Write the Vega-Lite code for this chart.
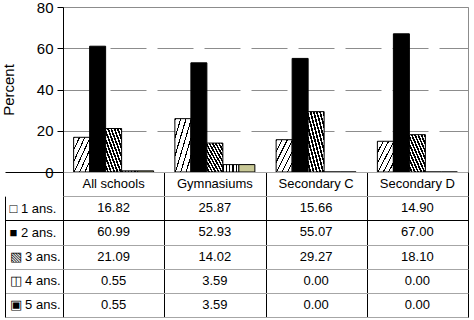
{
  "$schema": "https://vega.github.io/schema/vega-lite/v6.json",
  "padding": {"left": 0, "top": -1, "right": 0, "bottom": 0},
  "config": {"font": "Liberation Sans", "view": {"stroke": null}},
  "datasets": {
    "d": [
      {"school": "All schools", "ans": "1 ans.", "pct": 16.82},
      {"school": "All schools", "ans": "2 ans.", "pct": 60.99},
      {"school": "All schools", "ans": "3 ans.", "pct": 21.09},
      {"school": "All schools", "ans": "4 ans.", "pct": 0.55},
      {"school": "All schools", "ans": "5 ans.", "pct": 0.55},
      {"school": "Gymnasiums", "ans": "1 ans.", "pct": 25.87},
      {"school": "Gymnasiums", "ans": "2 ans.", "pct": 52.93},
      {"school": "Gymnasiums", "ans": "3 ans.", "pct": 14.02},
      {"school": "Gymnasiums", "ans": "4 ans.", "pct": 3.59},
      {"school": "Gymnasiums", "ans": "5 ans.", "pct": 3.59},
      {"school": "Secondary C", "ans": "1 ans.", "pct": 15.66},
      {"school": "Secondary C", "ans": "2 ans.", "pct": 55.07},
      {"school": "Secondary C", "ans": "3 ans.", "pct": 29.27},
      {"school": "Secondary C", "ans": "4 ans.", "pct": 0.0},
      {"school": "Secondary C", "ans": "5 ans.", "pct": 0.0},
      {"school": "Secondary D", "ans": "1 ans.", "pct": 14.9},
      {"school": "Secondary D", "ans": "2 ans.", "pct": 67.0},
      {"school": "Secondary D", "ans": "3 ans.", "pct": 18.1},
      {"school": "Secondary D", "ans": "4 ans.", "pct": 0.0},
      {"school": "Secondary D", "ans": "5 ans.", "pct": 0.0}
    ]
  },
  "bounds": "flush",
  "spacing": 0,
  "vconcat": [
    {
      "width": 405,
      "height": 165,
      "view": {"stroke": "#8c8c8c", "strokeWidth": 1},
      "data": {"name": "d"},
      "mark": {"type": "bar", "stroke": "black", "strokeWidth": 1},
      "encoding": {
        "x": {"field": "school", "type": "nominal", "scale": {"domain": ["All schools", "Gymnasiums", "Secondary C", "Secondary D"], "paddingInner": 0.21, "paddingOuter": 0.105}, "axis": null},
        "xOffset": {"field": "ans", "type": "nominal", "scale": {"domain": ["1 ans.", "2 ans.", "3 ans.", "4 ans.", "5 ans."], "paddingInner": 0, "paddingOuter": 0}},
        "y": {
          "field": "pct", "type": "quantitative",
          "scale": {"domain": [0, 80], "nice": false},
          "axis": {"values": [0, 20, 40, 60, 80], "title": "Percent", "titleFontSize": 15, "titleFontWeight": "normal", "titleColor": "black", "titlePadding": 20, "labelFontSize": 15, "labelColor": "black", "labelPadding": 4, "tickSize": 6, "tickColor": "black", "domainColor": "black", "grid": true, "gridColor": "#8c8c8c", "gridDash": [36, 11]}
        },
        "fill": {
          "condition": [
            {"test": "datum.ans === '1 ans.'", "value": {"gradient": "linear", "x1": 0, "y1": 0, "x2": 1, "y2": 1, "stops": [
              {"offset": 0, "color": "#000"}, {"offset": 0.035, "color": "#000"}, {"offset": 0.035, "color": "#fff"}, {"offset": 0.1667, "color": "#fff"},
              {"offset": 0.1667, "color": "#000"}, {"offset": 0.2017, "color": "#000"}, {"offset": 0.2017, "color": "#fff"}, {"offset": 0.3333, "color": "#fff"},
              {"offset": 0.3333, "color": "#000"}, {"offset": 0.3683, "color": "#000"}, {"offset": 0.3683, "color": "#fff"}, {"offset": 0.5, "color": "#fff"},
              {"offset": 0.5, "color": "#000"}, {"offset": 0.535, "color": "#000"}, {"offset": 0.535, "color": "#fff"}, {"offset": 0.6667, "color": "#fff"},
              {"offset": 0.6667, "color": "#000"}, {"offset": 0.7017, "color": "#000"}, {"offset": 0.7017, "color": "#fff"}, {"offset": 0.8333, "color": "#fff"},
              {"offset": 0.8333, "color": "#000"}, {"offset": 0.8683, "color": "#000"}, {"offset": 0.8683, "color": "#fff"}, {"offset": 1, "color": "#fff"}
            ]}},
            {"test": "datum.ans === '3 ans.'", "value": {"gradient": "linear", "x1": 1, "y1": 0, "x2": 0, "y2": 1, "stops": [
              {"offset": 0, "color": "#000"}, {"offset": 0.055, "color": "#000"}, {"offset": 0.055, "color": "#fff"}, {"offset": 0.1, "color": "#fff"},
              {"offset": 0.1, "color": "#000"}, {"offset": 0.155, "color": "#000"}, {"offset": 0.155, "color": "#fff"}, {"offset": 0.2, "color": "#fff"},
              {"offset": 0.2, "color": "#000"}, {"offset": 0.255, "color": "#000"}, {"offset": 0.255, "color": "#fff"}, {"offset": 0.3, "color": "#fff"},
              {"offset": 0.3, "color": "#000"}, {"offset": 0.355, "color": "#000"}, {"offset": 0.355, "color": "#fff"}, {"offset": 0.4, "color": "#fff"},
              {"offset": 0.4, "color": "#000"}, {"offset": 0.455, "color": "#000"}, {"offset": 0.455, "color": "#fff"}, {"offset": 0.5, "color": "#fff"},
              {"offset": 0.5, "color": "#000"}, {"offset": 0.555, "color": "#000"}, {"offset": 0.555, "color": "#fff"}, {"offset": 0.6, "color": "#fff"},
              {"offset": 0.6, "color": "#000"}, {"offset": 0.655, "color": "#000"}, {"offset": 0.655, "color": "#fff"}, {"offset": 0.7, "color": "#fff"},
              {"offset": 0.7, "color": "#000"}, {"offset": 0.755, "color": "#000"}, {"offset": 0.755, "color": "#fff"}, {"offset": 0.8, "color": "#fff"},
              {"offset": 0.8, "color": "#000"}, {"offset": 0.855, "color": "#000"}, {"offset": 0.855, "color": "#fff"}, {"offset": 0.9, "color": "#fff"},
              {"offset": 0.9, "color": "#000"}, {"offset": 0.955, "color": "#000"}, {"offset": 0.955, "color": "#fff"}, {"offset": 1, "color": "#fff"}
            ]}},
            {"test": "datum.ans === '4 ans.'", "value": {"gradient": "linear", "x1": 0, "y1": 0, "x2": 1, "y2": 0, "stops": [
              {"offset": 0, "color": "#000"}, {"offset": 0.07, "color": "#000"}, {"offset": 0.07, "color": "#fff"}, {"offset": 0.2, "color": "#fff"},
              {"offset": 0.2, "color": "#000"}, {"offset": 0.27, "color": "#000"}, {"offset": 0.27, "color": "#fff"}, {"offset": 0.4, "color": "#fff"},
              {"offset": 0.4, "color": "#000"}, {"offset": 0.47, "color": "#000"}, {"offset": 0.47, "color": "#fff"}, {"offset": 0.6, "color": "#fff"},
              {"offset": 0.6, "color": "#000"}, {"offset": 0.67, "color": "#000"}, {"offset": 0.67, "color": "#fff"}, {"offset": 0.8, "color": "#fff"},
              {"offset": 0.8, "color": "#000"}, {"offset": 0.87, "color": "#000"}, {"offset": 0.87, "color": "#fff"}, {"offset": 1, "color": "#fff"}
            ]}},
            {"test": "datum.ans === '5 ans.'", "value": "#c8c896"}
          ],
          "value": "black"
        }
      }
    },
    {
      "width": 405,
      "height": 145,
      "view": {"stroke": "black", "strokeWidth": 1},
      "data": {"name": "d"},
      "encoding": {
        "x": {
          "field": "school", "type": "nominal",
          "scale": {"domain": ["All schools", "Gymnasiums", "Secondary C", "Secondary D"], "paddingInner": 0, "paddingOuter": 0},
          "axis": {"title": null, "labels": false, "ticks": false, "domain": false, "grid": true, "tickBand": "extent", "gridColor": "black", "gridOpacity": 1}
        }
      },
      "resolve": {"axis": {"y": "independent"}},
      "layer": [
        {
          "mark": {"type": "text", "fontSize": 13, "color": "black"},
          "encoding": {
            "y": {
              "field": "ans", "type": "nominal",
              "scale": {"domain": ["hdr", "1 ans.", "2 ans.", "3 ans.", "4 ans.", "5 ans."], "paddingInner": 0, "paddingOuter": 0},
              "axis": {
                "title": null, "domain": false, "tickBand": "extent", "tickSize": 58,
                "tickColor": {"condition": [{"test": "datum.value === 'hdr'", "value": "transparent"}, {"test": "datum.value === '1 ans.' || !datum.value", "value": "black"}], "value": "#a6a6a6"},
                "labelAlign": "left", "labelPadding": -4, "labelFontSize": 13, "labelColor": "black",
                "labelExpr": "(!datum.value || datum.value === 'hdr') ? '' : (datum.value === '1 ans.' ? '□ ' : datum.value === '2 ans.' ? '■ ' : datum.value === '3 ans.' ? '▧ ' : datum.value === '4 ans.' ? '◫ ' : '▣ ') + datum.value",
                "grid": true,
                "gridColor": {"condition": {"test": "datum.value === '1 ans.'", "value": "black"}, "value": "#a6a6a6"},
                "gridOpacity": 1
              }
            },
            "text": {"field": "pct", "type": "quantitative", "format": ".2f"}
          }
        },
        {
          "transform": [{"filter": "datum.ans === '1 ans.'"}],
          "mark": {"type": "text", "fontSize": 13, "color": "black"},
          "encoding": {
            "y": {"datum": "hdr", "type": "nominal", "axis": {"orient": "left", "offset": 58, "title": null, "domain": true, "domainColor": "black", "domainDash": [0, 24.17, 200], "ticks": false, "labels": false, "grid": false}},
            "text": {"field": "school", "type": "nominal"}
          }
        }
      ]
    }
  ]
}
